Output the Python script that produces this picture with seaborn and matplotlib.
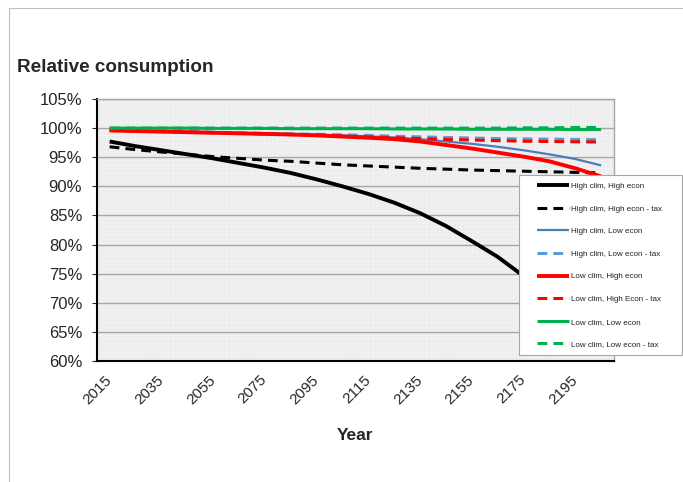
import numpy as np
import pandas as pd
import seaborn as sns
import matplotlib.pyplot as plt
from matplotlib.ticker import FuncFormatter, FixedLocator
from matplotlib.lines import Line2D
from matplotlib.legend_handler import HandlerLine2D

years = list(range(2015, 2206, 10))

high_high = [97.7, 96.9, 96.2, 95.5, 94.8, 94.0, 93.2, 92.3, 91.2, 90.0,
             88.7, 87.2, 85.4, 83.2, 80.6, 77.9, 74.6, 71.0, 67.4, 63.8]
high_high_tax = [96.8, 96.3, 95.9, 95.5, 95.1, 94.8, 94.5, 94.3, 94.0, 93.7,
                 93.5, 93.3, 93.1, 92.95, 92.8, 92.7, 92.6, 92.5, 92.4, 92.3]
high_low = [99.7, 99.6, 99.5, 99.4, 99.3, 99.2, 99.1, 99.0, 98.9, 98.75,
            98.6, 98.4, 98.1, 97.7, 97.3, 96.8, 96.2, 95.5, 94.7, 93.6]
high_low_tax = [99.7, 99.6, 99.5, 99.4, 99.3, 99.2, 99.1, 99.0, 98.95, 98.85,
                98.75, 98.6, 98.5, 98.4, 98.3, 98.2, 98.15, 98.1, 98.05, 98.0]
low_high = [99.6, 99.5, 99.4, 99.3, 99.2, 99.1, 99.0, 98.9, 98.75, 98.55,
            98.35, 98.1, 97.7, 97.1, 96.5, 95.8, 95.1, 94.3, 93.1, 91.7]
low_high_tax = [99.6, 99.5, 99.4, 99.3, 99.2, 99.1, 99.0, 98.9, 98.8, 98.65,
                98.5, 98.35, 98.2, 98.05, 97.95, 97.85, 97.75, 97.7, 97.65, 97.6]
low_low = [100.0, 100.0, 100.0, 100.0, 99.95, 99.95, 99.95, 99.9, 99.9, 99.9,
           99.9, 99.85, 99.85, 99.85, 99.8, 99.8, 99.8, 99.8, 99.75, 99.75]
low_low_tax = [100.0, 100.0, 100.0, 100.0, 100.0, 100.0, 100.0, 100.0, 100.0, 100.0,
               100.0, 100.0, 100.0, 100.0, 100.0, 100.0, 100.05, 100.05, 100.1, 100.1]

series = [
    ("High clim, High econ", high_high, "black", 2.8, "-"),
    ("High clim, High econ - tax", high_high_tax, "black", 2.2, "--"),
    ("High clim, Low econ", high_low, "#4A7EBB", 1.6, "-"),
    ("High clim, Low econ - tax", high_low_tax, "#5B9BD5", 2.2, "--"),
    ("Low clim, High econ", low_high, "#FF0000", 2.8, "-"),
    ("Low clim, High Econ - tax", low_high_tax, "#FF0000", 2.2, "--"),
    ("Low clim, Low econ", low_low, "#00B050", 2.2, "-"),
    ("Low clim, Low econ - tax", low_low_tax, "#00B050", 2.2, "--"),
]


# legend handle drawn with a gap on its left, like the Excel legend
class ShiftedLine(HandlerLine2D):
    def create_artists(self, legend, orig_handle, xdescent, ydescent, width, height, fontsize, trans):
        shift = 8.0
        return super().create_artists(legend, orig_handle, xdescent - shift, ydescent,
                                      width - shift, height, fontsize, trans)


sns.set_style("white")
plt.rcParams["font.family"] = ["Liberation Sans", "DejaVu Sans"]
plt.rcParams["hatch.linewidth"] = 0.3

fig = plt.figure(figsize=(6.83, 4.82), dpi=100)
ax = fig.add_axes([0.1416, 0.251, 0.899 - 0.1416, 0.7946 - 0.251])
ax.set_facecolor("#EDEDED")
ax.add_patch(plt.Rectangle((0, 0), 1, 1, transform=ax.transAxes, facecolor="none",
                           edgecolor="#F8F8F8", hatch="++++", lw=0, zorder=0))

pos = np.arange(len(years))
dash = (0, (3.2, 2.0))
handles = []
for name, vals, col, lw, ls in series:
    style = dash if ls == "--" else "-"
    sns.lineplot(x=pos, y=vals, ax=ax, color=col, lw=lw, linestyle=style,
                 solid_capstyle="butt", dash_capstyle="butt", zorder=3)
    handles.append(Line2D([], [], color=col, lw=lw, linestyle=style, solid_capstyle="butt"))

ax.set_xlim(-0.5, len(years) - 0.5)
ax.set_ylim(60, 105)
ax.set_yticks(np.arange(60, 106, 5))
ax.yaxis.set_major_formatter(FuncFormatter(lambda v, p: f"{v:.0f}%"))
ax.grid(axis="y", color="#A6A6A6", lw=1.0, zorder=1)
ax.set_axisbelow(True)

ax.xaxis.set_major_locator(FixedLocator(pos[::2]))
ax.set_xticklabels([str(y) for y in years[::2]], rotation=45, ha="right", va="center",
                   rotation_mode="anchor", fontsize=11)
ax.xaxis.set_minor_locator(FixedLocator(np.arange(-0.5, len(years), 1.0)))
ax.tick_params(axis="x", which="major", length=0, pad=12)
ax.tick_params(axis="x", which="minor", length=3.5, width=0.8, color="#404040", direction="out")
ax.tick_params(axis="y", length=3.5, width=0.8, direction="out", labelsize=12, left=True, pad=7)

for s in ["top", "right"]:
    ax.spines[s].set_color("#A6A6A6")
    ax.spines[s].set_linewidth(1.0)
for s in ["left", "bottom"]:
    ax.spines[s].set_color("black")
    ax.spines[s].set_linewidth(1.5)

ax.set_xlabel("Year", fontsize=12.5, fontweight="bold", labelpad=15)
ax.set_ylabel("")

leg = fig.legend(handles, [s[0] for s in series], loc="upper left",
                 bbox_to_anchor=(519 / 683, 1 - 355 / 482, 163 / 683, 180 / 482),
                 mode="expand", fontsize=5.8, frameon=True, fancybox=False,
                 framealpha=1, handlelength=5.3, handletextpad=0.25,
                 labelspacing=1.86, borderpad=0.9, borderaxespad=0,
                 handler_map={Line2D: ShiftedLine()})
leg.get_frame().set_edgecolor("#A6A6A6")
leg.get_frame().set_linewidth(0.8)
leg.set_zorder(10)
for t in leg.get_texts():
    t.set_color("#222222")

fig.text(17 / 683, 1 - 72 / 482, "Relative consumption", fontsize=13.6, fontweight="bold",
         ha="left", va="baseline")

fig.add_artist(Line2D([9 / 683, 9 / 683], [0, 1 - 8 / 482], transform=fig.transFigure,
                      color="#BFBFBF", lw=0.8))
fig.add_artist(Line2D([9 / 683, 1], [1 - 8 / 482, 1 - 8 / 482], transform=fig.transFigure,
                      color="#BFBFBF", lw=0.8))

fig.savefig("out.png", dpi=100)
